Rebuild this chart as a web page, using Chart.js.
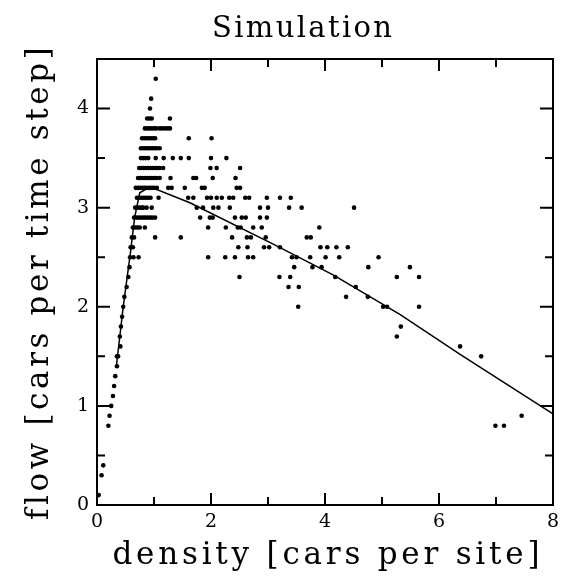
<!DOCTYPE html>
<html>
<head>
<meta charset="utf-8">
<script src="https://cdn.jsdelivr.net/npm/chart.js@4"></script>
<style>
  html, body { margin: 0; padding: 0; background: #fff; }
  #c { display: block; }
</style>
</head>
<body>
<canvas id="c" width="568" height="579"></canvas>
<script>
// ---- data ----
const titleText = "Simulation";
const xLabel = "density [cars per site]";
const yLabel = "flow [cars per time step]";
const xTicks = [0, 2, 4, 6, 8];
const xMinorTicks = [1, 3, 5, 7];
const yTicks = [0, 1, 2, 3, 4];
const yMinorTicks = [0.5, 1.5, 2.5, 3.5, 4.5];

// simulated points: density (x) and flow (y)
const simDensity = [
  1.03,
  0.95,
  0.93,
  0.88, 0.92, 0.96, 1.28,
  0.84, 0.88, 0.92, 0.96, 1.00, 1.04, 1.10, 1.14, 1.19, 1.24, 1.28,
  0.79, 0.83, 0.87, 0.91, 0.95, 0.99, 1.02, 1.61, 2.01,
  0.77, 0.81, 0.85, 0.89, 0.93, 0.97, 1.01, 1.05, 1.10,
  0.77, 0.81, 0.85, 0.90, 1.03, 1.17, 1.33, 1.47, 1.61, 2.00, 2.27,
  0.74, 0.78, 0.82, 0.86, 0.90, 0.94, 0.98, 1.02, 1.06, 1.10, 1.16, 1.99, 2.10, 2.51,
  0.72, 0.76, 0.80, 0.84, 0.88, 0.92, 0.96, 1.00, 1.04, 1.10, 1.29, 1.69, 1.74, 2.03, 2.43,
  0.68, 0.72, 0.76, 0.80, 0.84, 0.88, 0.92, 0.96, 1.00, 1.05, 1.25, 1.31, 1.54, 1.84, 1.89, 2.45, 2.51,
  0.70, 0.74, 0.78, 0.82, 0.86, 0.90, 0.94, 1.08, 1.60, 1.69, 1.93, 2.00, 2.10, 2.19, 2.32, 2.39, 2.60, 2.67, 2.98, 3.21, 3.40,
  0.67, 0.71, 0.75, 0.79, 0.81, 0.87, 0.96, 1.75, 1.86, 2.04, 2.13, 2.33, 2.86, 3.00, 3.37, 3.59, 4.51,
  0.65, 0.69, 0.73, 0.77, 0.81, 0.85, 0.89, 0.93, 0.97, 1.02, 1.81, 1.98, 2.03, 2.42, 2.54, 2.61, 2.86, 2.98,
  0.63, 0.67, 0.71, 0.75, 0.84, 1.95, 2.26, 2.47, 2.52, 2.74, 2.89, 3.90,
  0.61, 0.65, 1.02, 1.47, 2.37, 2.63, 2.70, 2.96, 3.68, 3.75,
  0.59, 0.63, 2.48, 2.64, 2.93, 3.02, 3.21, 3.92, 4.04, 4.20, 4.40,
  0.58, 0.64, 0.73, 1.95, 2.25, 2.42, 2.65, 2.74, 3.42, 3.50, 3.74, 4.01, 4.25, 4.94,
  0.57, 3.46, 3.78, 3.94, 4.76, 5.49,
  0.55, 2.50, 3.20, 3.39, 4.18, 5.26, 5.65,
  0.52, 3.36, 3.54, 4.54,
  0.48, 4.37, 4.75,
  0.46, 3.53, 5.02, 5.09, 5.65,
  0.44,
  0.42, 5.33,
  0.40, 5.26,
  0.41, 6.37,
  0.35, 0.37, 6.74,
  0.35,
  0.32,
  0.30,
  0.28,
  0.25,
  0.22, 7.45,
  0.20, 6.99, 7.14,
  0.11,
  0.08,
  0.03
];
const simFlow = [
  4.3,
  4.1,
  4.0,
  3.9, 3.9, 3.9, 3.9,
  3.8, 3.8, 3.8, 3.8, 3.8, 3.8, 3.8, 3.8, 3.8, 3.8, 3.8,
  3.7, 3.7, 3.7, 3.7, 3.7, 3.7, 3.7, 3.7, 3.7,
  3.6, 3.6, 3.6, 3.6, 3.6, 3.6, 3.6, 3.6, 3.6,
  3.5, 3.5, 3.5, 3.5, 3.5, 3.5, 3.5, 3.5, 3.5, 3.5, 3.5,
  3.4, 3.4, 3.4, 3.4, 3.4, 3.4, 3.4, 3.4, 3.4, 3.4, 3.4, 3.4, 3.4, 3.4,
  3.3, 3.3, 3.3, 3.3, 3.3, 3.3, 3.3, 3.3, 3.3, 3.3, 3.3, 3.3, 3.3, 3.3, 3.3,
  3.2, 3.2, 3.2, 3.2, 3.2, 3.2, 3.2, 3.2, 3.2, 3.2, 3.2, 3.2, 3.2, 3.2, 3.2, 3.2, 3.2,
  3.1, 3.1, 3.1, 3.1, 3.1, 3.1, 3.1, 3.1, 3.1, 3.1, 3.1, 3.1, 3.1, 3.1, 3.1, 3.1, 3.1, 3.1, 3.1, 3.1, 3.1,
  3.0, 3.0, 3.0, 3.0, 3.0, 3.0, 3.0, 3.0, 3.0, 3.0, 3.0, 3.0, 3.0, 3.0, 3.0, 3.0, 3.0,
  2.9, 2.9, 2.9, 2.9, 2.9, 2.9, 2.9, 2.9, 2.9, 2.9, 2.9, 2.9, 2.9, 2.9, 2.9, 2.9, 2.9, 2.9,
  2.8, 2.8, 2.8, 2.8, 2.8, 2.8, 2.8, 2.8, 2.8, 2.8, 2.8, 2.8,
  2.7, 2.7, 2.7, 2.7, 2.7, 2.7, 2.7, 2.7, 2.7, 2.7,
  2.6, 2.6, 2.6, 2.6, 2.6, 2.6, 2.6, 2.6, 2.6, 2.6, 2.6,
  2.5, 2.5, 2.5, 2.5, 2.5, 2.5, 2.5, 2.5, 2.5, 2.5, 2.5, 2.5, 2.5, 2.5,
  2.4, 2.4, 2.4, 2.4, 2.4, 2.4,
  2.3, 2.3, 2.3, 2.3, 2.3, 2.3, 2.3,
  2.2, 2.2, 2.2, 2.2,
  2.1, 2.1, 2.1,
  2.0, 2.0, 2.0, 2.0, 2.0,
  1.9,
  1.8, 1.8,
  1.7, 1.7,
  1.6, 1.6,
  1.5, 1.5, 1.5,
  1.4,
  1.3,
  1.2,
  1.1,
  1.0,
  0.9, 0.9,
  0.8, 0.8, 0.8,
  0.4,
  0.3,
  0.1
];

// theoretical curve
const curveDensity = [0.34, 0.46, 0.59, 0.66, 0.75, 0.93, 1.63, 3.10, 4.15, 5.32, 6.37, 8.00];
const curveFlow    = [1.40, 2.00, 2.56, 2.90, 3.15, 3.21, 3.05, 2.63, 2.32, 1.92, 1.52, 0.92];

// ---- build ----
const scatterData = simDensity.map((x, i) => ({ x: x, y: simFlow[i] }));
const curveData = curveDensity.map((x, i) => ({ x: x, y: curveFlow[i] }));

const FONT = "'DejaVu Serif', serif";

// draw a text stretched (via letter spacing) to a given width, centred at cx
function spacedText(ctx, text, cx, cy, width) {
  ctx.letterSpacing = '0px';
  const w = ctx.measureText(text).width;
  const sp = Math.max(0, (width - w) / (text.length - 1));
  ctx.letterSpacing = sp + 'px';
  ctx.textAlign = 'left';
  ctx.fillText(text, cx - width / 2, cy);
  ctx.letterSpacing = '0px';
}

const framePlugin = {
  id: 'frame',
  beforeDraw(chart) {
    const ctx = chart.ctx;
    ctx.save();
    ctx.fillStyle = '#fff';
    ctx.fillRect(0, 0, chart.width, chart.height);
    ctx.restore();
  },
  afterDraw(chart) {
    const ctx = chart.ctx;
    const a = chart.chartArea;
    const xs = chart.scales.x, ys = chart.scales.y;
    ctx.save();
    ctx.strokeStyle = '#000';
    ctx.lineWidth = 2;
    ctx.strokeRect(a.left, a.top, a.right - a.left, a.bottom - a.top);
    ctx.beginPath();
    const tickX = (vals, len) => {
      vals.forEach(v => {
        const px = xs.getPixelForValue(v);
        ctx.moveTo(px, a.bottom); ctx.lineTo(px, a.bottom - len);
        ctx.moveTo(px, a.top); ctx.lineTo(px, a.top + len);
      });
    };
    const tickY = (vals, len) => {
      vals.forEach(v => {
        const py = ys.getPixelForValue(v);
        ctx.moveTo(a.left, py); ctx.lineTo(a.left + len, py);
        ctx.moveTo(a.right, py); ctx.lineTo(a.right - len, py);
      });
    };
    tickX(xTicks, 12); tickX(xMinorTicks, 8);
    tickY(yTicks, 13); tickY(yMinorTicks, 8);
    ctx.stroke();

    ctx.fillStyle = '#000';
    ctx.textBaseline = 'alphabetic';
    // title
    ctx.font = "29px " + FONT;
    spacedText(ctx, titleText, 302, 37, 180);
    // x axis title
    ctx.font = "31px " + FONT;
    spacedText(ctx, xLabel, (a.left + a.right) / 2 + 1, 564, 427);
    // y axis title
    ctx.save();
    ctx.translate(48, (a.top + a.bottom) / 2 + 2);
    ctx.rotate(-Math.PI / 2);
    spacedText(ctx, yLabel, 0, 0, 472);
    ctx.restore();
    ctx.restore();
  }
};

new Chart(document.getElementById('c'), {
  type: 'scatter',
  data: {
    datasets: [
      {
        label: 'simulation',
        data: scatterData,
        pointRadius: 2.3,
        pointHoverRadius: 2.3,
        pointBackgroundColor: '#000',
        pointBorderWidth: 0,
        showLine: false
      },
      {
        label: 'curve',
        type: 'line',
        data: curveData,
        borderColor: '#000',
        borderWidth: 1.5,
        pointRadius: 0,
        fill: false,
        tension: 0
      }
    ]
  },
  plugins: [framePlugin],
  options: {
    responsive: false,
    animation: false,
    events: [],
    layout: { padding: { top: 59, right: 15, left: 0, bottom: 0 } },
    plugins: { legend: { display: false }, title: { display: false }, tooltip: { enabled: false } },
    scales: {
      x: {
        type: 'linear',
        min: 0, max: 8,
        afterBuildTicks: s => { s.ticks = xTicks.map(v => ({ value: v })); },
        afterFit: s => { s.height = 74; },
        grid: { display: false, drawTicks: false },
        border: { display: false },
        ticks: { color: '#000', padding: 6, font: { family: FONT, size: 19 } },
        title: { display: false }
      },
      y: {
        type: 'linear',
        min: 0, max: 4.5,
        afterBuildTicks: s => { s.ticks = yTicks.map(v => ({ value: v })); },
        afterFit: s => { s.width = 97; },
        grid: { display: false, drawTicks: false },
        border: { display: false },
        ticks: { color: '#000', padding: 8, font: { family: FONT, size: 19 } },
        title: { display: false }
      }
    }
  }
});
</script>
</body>
</html>
